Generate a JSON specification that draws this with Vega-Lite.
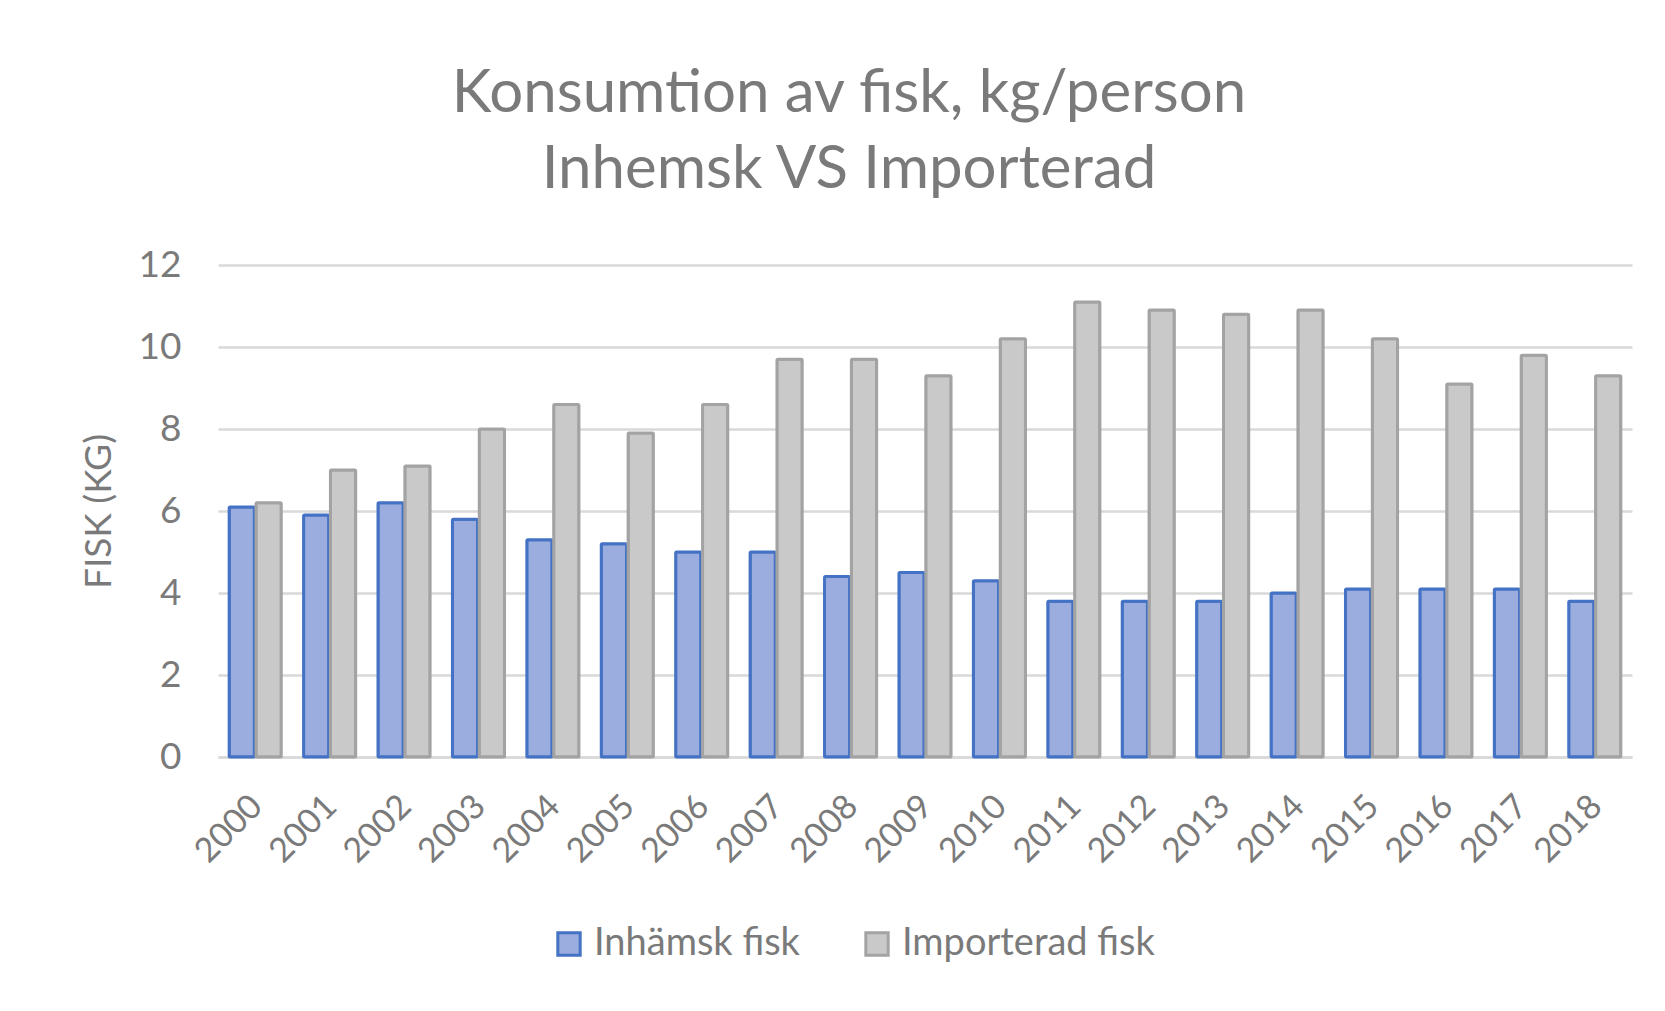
{
  "$schema": "https://vega.github.io/schema/vega-lite/v6.json",
  "width": 1414,
  "height": 492,
  "padding": {"left": 80, "top": 64, "right": 33, "bottom": 40},
  "background": "white",
  "title": {
    "text": ["Konsumtion av fisk, kg/person", "Inhemsk VS Importerad"],
    "font": "Lato",
    "fontSize": 60,
    "fontWeight": "normal",
    "color": "#7a7a7a",
    "lineHeight": 76,
    "anchor": "middle",
    "dx": -76,
    "offset": 45
  },
  "data": {
    "values": [
      {"year": "2000", "serie": "Inhämsk fisk", "kg": 6.1},
      {"year": "2001", "serie": "Inhämsk fisk", "kg": 5.9},
      {"year": "2002", "serie": "Inhämsk fisk", "kg": 6.2},
      {"year": "2003", "serie": "Inhämsk fisk", "kg": 5.8},
      {"year": "2004", "serie": "Inhämsk fisk", "kg": 5.3},
      {"year": "2005", "serie": "Inhämsk fisk", "kg": 5.2},
      {"year": "2006", "serie": "Inhämsk fisk", "kg": 5.0},
      {"year": "2007", "serie": "Inhämsk fisk", "kg": 5.0},
      {"year": "2008", "serie": "Inhämsk fisk", "kg": 4.4},
      {"year": "2009", "serie": "Inhämsk fisk", "kg": 4.5},
      {"year": "2010", "serie": "Inhämsk fisk", "kg": 4.3},
      {"year": "2011", "serie": "Inhämsk fisk", "kg": 3.8},
      {"year": "2012", "serie": "Inhämsk fisk", "kg": 3.8},
      {"year": "2013", "serie": "Inhämsk fisk", "kg": 3.8},
      {"year": "2014", "serie": "Inhämsk fisk", "kg": 4.0},
      {"year": "2015", "serie": "Inhämsk fisk", "kg": 4.1},
      {"year": "2016", "serie": "Inhämsk fisk", "kg": 4.1},
      {"year": "2017", "serie": "Inhämsk fisk", "kg": 4.1},
      {"year": "2018", "serie": "Inhämsk fisk", "kg": 3.8},
      {"year": "2000", "serie": "Importerad fisk", "kg": 6.2},
      {"year": "2001", "serie": "Importerad fisk", "kg": 7.0},
      {"year": "2002", "serie": "Importerad fisk", "kg": 7.1},
      {"year": "2003", "serie": "Importerad fisk", "kg": 8.0},
      {"year": "2004", "serie": "Importerad fisk", "kg": 8.6},
      {"year": "2005", "serie": "Importerad fisk", "kg": 7.9},
      {"year": "2006", "serie": "Importerad fisk", "kg": 8.6},
      {"year": "2007", "serie": "Importerad fisk", "kg": 9.7},
      {"year": "2008", "serie": "Importerad fisk", "kg": 9.7},
      {"year": "2009", "serie": "Importerad fisk", "kg": 9.3},
      {"year": "2010", "serie": "Importerad fisk", "kg": 10.2},
      {"year": "2011", "serie": "Importerad fisk", "kg": 11.1},
      {"year": "2012", "serie": "Importerad fisk", "kg": 10.9},
      {"year": "2013", "serie": "Importerad fisk", "kg": 10.8},
      {"year": "2014", "serie": "Importerad fisk", "kg": 10.9},
      {"year": "2015", "serie": "Importerad fisk", "kg": 10.2},
      {"year": "2016", "serie": "Importerad fisk", "kg": 9.1},
      {"year": "2017", "serie": "Importerad fisk", "kg": 9.8},
      {"year": "2018", "serie": "Importerad fisk", "kg": 9.3}
    ]
  },
  "mark": {"type": "bar", "strokeWidth": 3, "cornerRadius": 1},
  "encoding": {
    "x": {
      "field": "year",
      "type": "nominal",
      "scale": {"paddingInner": 0.3, "paddingOuter": 0.15},
      "axis": {
        "title": null,
        "labelAngle": -45,
        "labelFont": "Lato",
        "labelFontSize": 34,
        "labelColor": "#7a7a7a",
        "labelPadding": 32,
        "labelOffset": -10,
        "ticks": false,
        "domainColor": "#d9d9d9",
        "domainWidth": 2.5
      }
    },
    "xOffset": {
      "field": "serie",
      "type": "nominal",
      "sort": ["Inhämsk fisk", "Importerad fisk"],
      "scale": {"paddingInner": 0.06}
    },
    "y": {
      "field": "kg",
      "type": "quantitative",
      "scale": {"domain": [0, 12]},
      "axis": {
        "title": "FISK (KG)",
        "titleFont": "Lato",
        "titleFontSize": 37,
        "titleFontWeight": "normal",
        "titleColor": "#7a7a7a",
        "titlePadding": 20,
        "values": [0, 2, 4, 6, 8, 10, 12],
        "labelFont": "Lato",
        "labelFontSize": 37,
        "labelColor": "#7a7a7a",
        "labelPadding": 37,
        "ticks": false,
        "domain": false,
        "gridColor": "#d9d9d9",
        "gridWidth": 2.5
      }
    },
    "color": {
      "field": "serie",
      "type": "nominal",
      "sort": ["Inhämsk fisk", "Importerad fisk"],
      "scale": {"domain": ["Inhämsk fisk", "Importerad fisk"], "range": ["#9badde", "#c9c9c9"]},
      "legend": {
        "title": null,
        "orient": "none",
        "legendX": 332,
        "legendY": 660,
        "direction": "horizontal",
        "symbolType": "square",
        "symbolSize": 500,
        "symbolStrokeWidth": 3,
        "labelFont": "Lato",
        "labelFontSize": 38,
        "labelColor": "#7a7a7a",
        "labelLimit": 400,
        "labelOffset": 6,
        "columnPadding": 58
      }
    },
    "stroke": {
      "field": "serie",
      "type": "nominal",
      "sort": ["Inhämsk fisk", "Importerad fisk"],
      "scale": {"domain": ["Inhämsk fisk", "Importerad fisk"], "range": ["#4472c4", "#a3a3a3"]},
      "legend": {
        "title": null,
        "orient": "none",
        "legendX": 332,
        "legendY": 660,
        "direction": "horizontal",
        "symbolType": "square",
        "symbolSize": 500,
        "symbolStrokeWidth": 3,
        "labelFont": "Lato",
        "labelFontSize": 38,
        "labelColor": "#7a7a7a",
        "labelLimit": 400,
        "labelOffset": 6,
        "columnPadding": 58
      }
    }
  },
  "config": {"view": {"stroke": null}}
}
